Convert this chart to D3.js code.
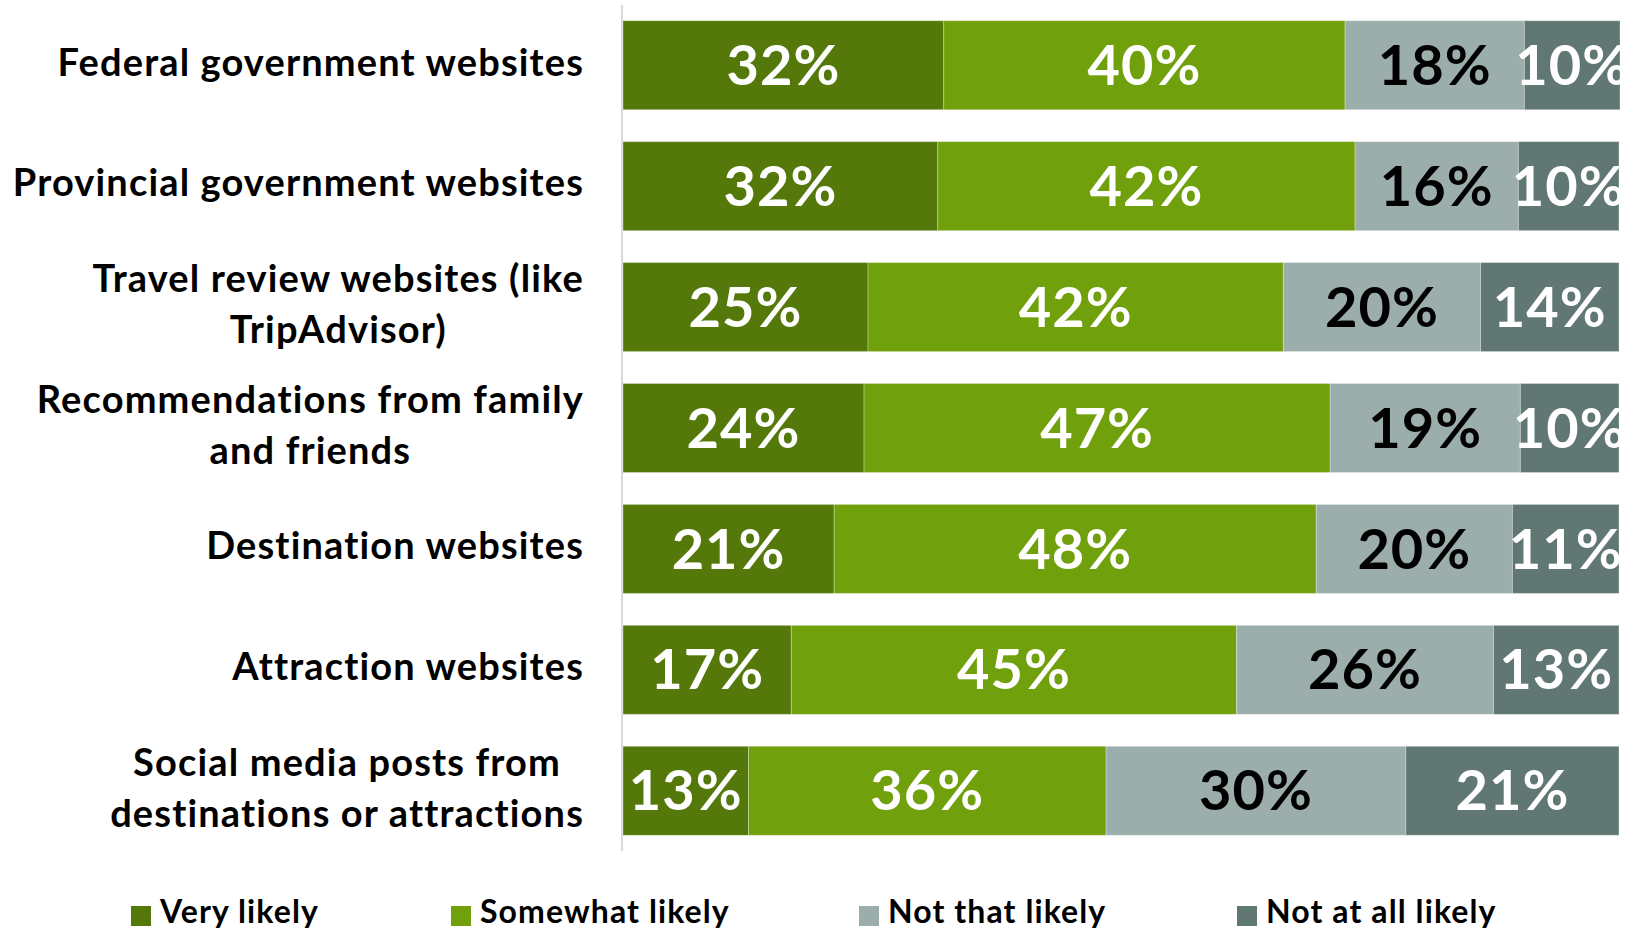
<!DOCTYPE html>
<html>
<head>
<meta charset="utf-8">
<script src="https://cdn.jsdelivr.net/npm/d3@7"></script>
<style>
body {margin: 0; background: #fff; overflow: hidden;}
svg {display: block;}
text {font-family: Lato, 'Open Sans', sans-serif; font-weight: 700;}
</style>
</head>
<body>
<div id="chart"></div>
<script>

// rows, top to bottom. \n marks the line break in the label
var categories = [
  'Federal government websites',
  'Provincial government websites',
  'Travel review websites (like\nTripAdvisor)',
  'Recommendations from family\nand friends',
  'Destination websites',
  'Attraction websites',
  'Social media posts from\ndestinations or attractions'
]

var series = ['Very likely', 'Somewhat likely', 'Not that likely', 'Not at all likely']

// shares, labels are these rounded
var veryLikely     = [32.2, 31.6, 24.6, 24.2, 21.2, 16.9, 12.6]
var somewhatLikely = [40.3, 41.9, 41.7, 46.8, 48.4, 44.7, 35.9]
var notThatLikely  = [18.0, 16.4, 19.8, 19.1, 19.7, 25.8, 30.1]
var notAtAllLikely = [ 9.6, 10.1, 13.9,  9.9, 10.7, 12.6, 21.4]

var colors = ['#54790a', '#70a00b', '#9caeac', '#607774']
var labelColors = ['#fff', '#fff', '#000', '#fff']

var width = 1625, height = 930

var rows = categories.map((name, i) => ({
  name,
  'Very likely': veryLikely[i],
  'Somewhat likely': somewhatLikely[i],
  'Not that likely': notThatLikely[i],
  'Not at all likely': notAtAllLikely[i]
}))

var stacked = d3.stack().keys(series)(rows)

var svg = d3.select('#chart').append('svg')
  .attr('width', width)
  .attr('height', height)

var x = d3.scaleLinear().domain([0, 100]).range([623, 1619])

var y = d3.scaleBand()
  .domain(categories)
  .range([5, 851])
  .paddingInner(0.264)
  .paddingOuter(0.13)

// thin axis line on the left of the bars
svg.append('line')
  .attr('x1', 622).attr('x2', 622)
  .attr('y1', y.range()[0]).attr('y2', y.range()[1])
  .attr('stroke', '#d9d9d9')
  .attr('stroke-width', 2)

var layer = svg.selectAll('g.layer')
  .data(stacked)
  .join('g')
  .attr('class', 'layer')

layer.selectAll('rect')
  .data(d => d)
  .join('rect')
  .attr('x', d => x(d[0]))
  .attr('y', d => y(d.data.name))
  .attr('width', d => x(d[1]) - x(d[0]))
  .attr('height', y.bandwidth())
  .attr('fill', (d, i, nodes) => colors[series.indexOf(nodes[i].parentNode.__data__.key)])
  .attr('stroke', 'rgba(255,255,255,0.3)')
  .attr('stroke-width', 1)

layer.selectAll('text')
  .data(d => d.map(v => ({v, key: d.key})))
  .join('text')
  .attr('x', d => (x(d.v[0]) + x(d.v[1]))/2)
  .attr('y', d => y(d.v.data.name) + y.bandwidth()/2)
  .attr('dy', '0.35em')
  .attr('text-anchor', 'middle')
  .attr('font-size', 56)
  .attr('letter-spacing', 1)
  .attr('fill', d => labelColors[series.indexOf(d.key)])
  .text(d => Math.round(d.v[1] - d.v[0]) + '%')

// category labels: lines centred on each other, block right aligned
var labelRight = 584
var lineGap = 51

categories.forEach(name => {
  var lines = name.split('\n')
  var cy = y(name) + y.bandwidth()/2 - 3
  var g = svg.append('g')
  var ts = lines.map((line, i) => g.append('text')
    .attr('y', cy + (i - (lines.length - 1)/2)*lineGap)
    .attr('dy', '0.35em')
    .attr('font-size', 38)
    .attr('letter-spacing', 1.15)
    .attr('fill', '#000')
    .attr('text-anchor', 'middle')
    .text(line))
  var w = d3.max(ts, t => t.node().getComputedTextLength())
  ts.forEach(t => t.attr('x', labelRight - w/2))
})

// legend
var legendX = [131, 451, 859, 1237]

var legend = svg.selectAll('g.legend')
  .data(series)
  .join('g')
  .attr('class', 'legend')
  .attr('transform', (d, i) => 'translate(' + legendX[i] + ',906)')

legend.append('rect')
  .attr('width', 20).attr('height', 20)
  .attr('fill', (d, i) => colors[i])

legend.append('text')
  .attr('x', 29)
  .attr('y', 17)
  .attr('font-size', 32)
  .attr('letter-spacing', 1.1)
  .attr('fill', '#000')
  .text(d => d)

</script>
</body>
</html>
